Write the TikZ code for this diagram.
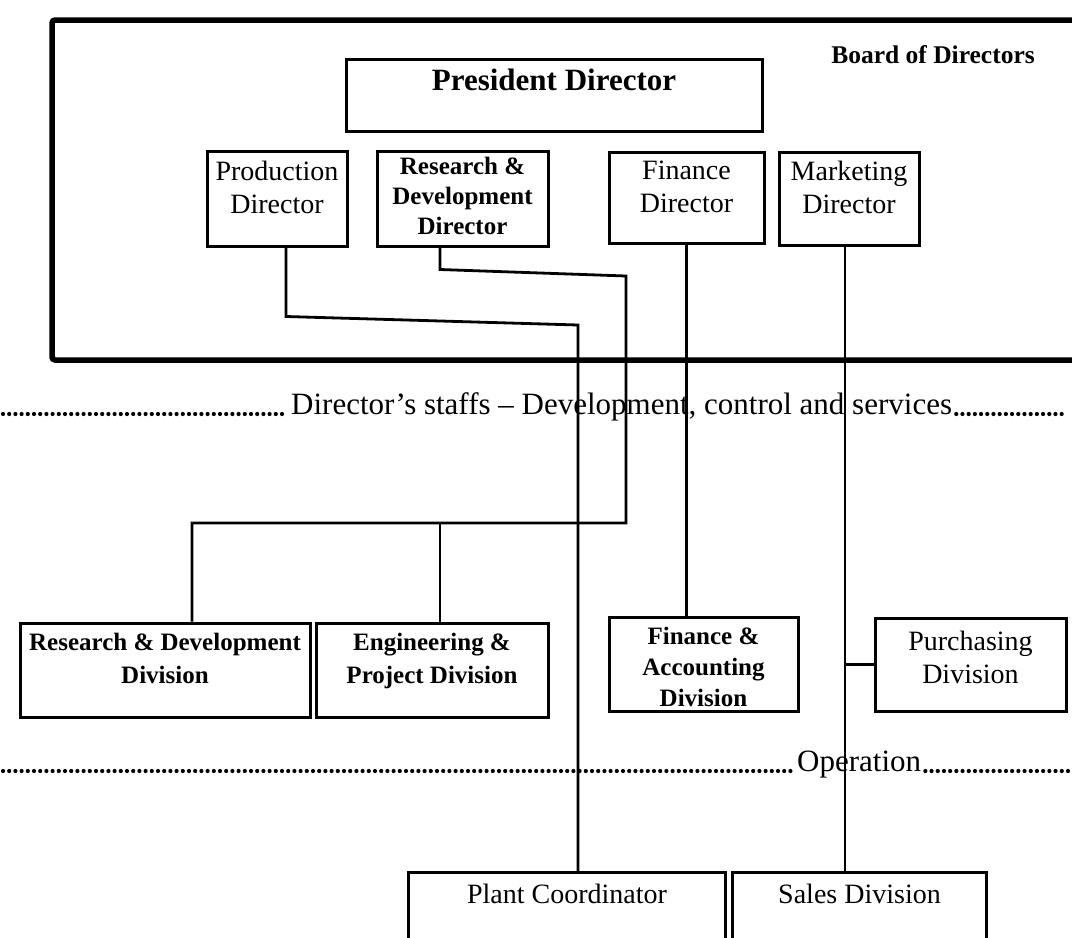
\documentclass[tikz,border=0pt]{standalone}
\usepackage{fontspec}
\setmainfont{Liberation Serif}
\usetikzlibrary{positioning}

\newcommand{\txtsize}[2]{\fontsize{#1}{#2}\selectfont}

\begin{document}
\begin{tikzpicture}[x=1pt,y=-1pt,
  box/.style={draw,line width=3pt,inner sep=0pt},
  lbl/.style={anchor=north,align=center,inner sep=0pt},
  link/.style={line width=2.8pt},
  dotrow/.style={line width=4.2pt,line cap=round,dash pattern=on 0pt off 6.2pt}
]
\useasboundingbox (0,0) rectangle (1072,938);

% board frame, open on the right
\draw[line width=5.5pt,rounded corners=3pt] (1090,20) -- (52,20) -- (52,360) -- (1090,360);
\node[font=\bfseries\txtsize{25.5}{30}] (board) at (933,55) {Board of Directors};

% directors
\node[box,minimum width=416,minimum height=72] (pres) at (554,95) {};
\node[lbl,font=\bfseries\txtsize{31}{36}] (prestxt) at (554,69) {President Director};
\node[box,minimum width=140,minimum height=95] (prod) at (277,198.5) {};
\node[lbl,font=\txtsize{28}{33}] (prodtxt) at (277,161) {Production\\Director};
\node[box,minimum width=171,minimum height=95] (rdd) at (462.5,198.5) {};
\node[lbl,font=\bfseries\txtsize{25}{30}] (rddtxt) at (462.5,157) {Research \&\\Development\\Director};
\node[box,minimum width=155,minimum height=91] (fin) at (686.5,197.5) {};
\node[lbl,font=\txtsize{28}{33}] (fintxt) at (686.5,161) {Finance\\Director};
\node[box,minimum width=140,minimum height=93] (mkt) at (849,198.5) {};
\node[lbl,font=\txtsize{28}{33}] (mkttxt) at (849,161) {Marketing\\Director};

% staff level
\node[anchor=base west,inner sep=0pt,font=\txtsize{31}{37}] (staff) at (291,414) {Director’s staffs – Development, control and services};
\coordinate (sl) at (3,414);
\coordinate (sr) at (1062,414);
\draw[dotrow] (sl) -- ([xshift=-4]staff.base west);
\draw[dotrow] ([xshift=4]staff.base east) -- (sr);

\node[box,minimum width=290,minimum height=94] (rdiv) at (165,670) {};
\node[lbl,font=\bfseries\txtsize{25}{33}] (rdivtxt) at (165,633) {Research \& Development\\Division};
\node[box,minimum width=232,minimum height=94] (eng) at (432,670) {};
\node[lbl,font=\bfseries\txtsize{25}{33}] (engtxt) at (432,633) {Engineering \&\\Project Division};
\node[box,minimum width=189,minimum height=94] (fa) at (703.5,664) {};
\node[lbl,font=\bfseries\txtsize{25}{31}] (fatxt) at (703.5,627) {Finance \&\\Accounting\\Division};
\node[box,minimum width=191,minimum height=93] (pur) at (970.5,664.5) {};
\node[lbl,font=\txtsize{28}{33}] (purtxt) at (970.5,631) {Purchasing\\Division};

% operation level
\node[anchor=base west,inner sep=0pt,font=\txtsize{31}{36}] (oper) at (797,771) {Operation};
\coordinate (ol) at (3,771);
\coordinate (or) at (1072,771);
\draw[dotrow] (ol) -- ([xshift=-4]oper.base west);
\draw[dotrow] ([xshift=4]oper.base east) -- (or);

\node[minimum width=316,minimum height=80,inner sep=0pt] (plant) at (567,913) {};
\draw[line width=3pt] (plant.south west) |- (plant.north east) -- (plant.south east);
\node[lbl,font=\txtsize{28}{33}] (planttxt) at (567,884) {Plant Coordinator};
\node[minimum width=253,minimum height=80,inner sep=0pt] (sales) at (859.5,913) {};
\draw[line width=3pt] (sales.south west) |- (sales.north east) -- (sales.south east);
\node[lbl,font=\txtsize{28}{33}] (salestxt) at (859.5,884) {Sales Division};

% connectors
\coordinate (pbend) at (578,325);
\draw[link] ([xshift=9]prod.south) -- ++(0,69) -- (pbend) -- (pbend |- plant.north);
\coordinate (rbend) at (626,276);
\coordinate (rbar) at (626,523);
\coordinate (rjoin) at (192,523);
\coordinate (engtop) at ([xshift=8]eng.north);
\draw[link] ([xshift=-22.5]rdd.south) -- ++(0,22) -- (rbend) -- (rbar) -- (rjoin) -- (rjoin |- rdiv.north);
\draw[link] (engtop |- rjoin) -- (engtop);
\draw[link] (fin.south) -- (fin.south |- fa.north);
\draw[link] ([xshift=-4]mkt.south) -- ([xshift=-4]mkt.south |- sales.north);
\draw[link] ([xshift=-4]mkt.south |- pur.west) -- (pur.west);
\end{tikzpicture}
\end{document}
